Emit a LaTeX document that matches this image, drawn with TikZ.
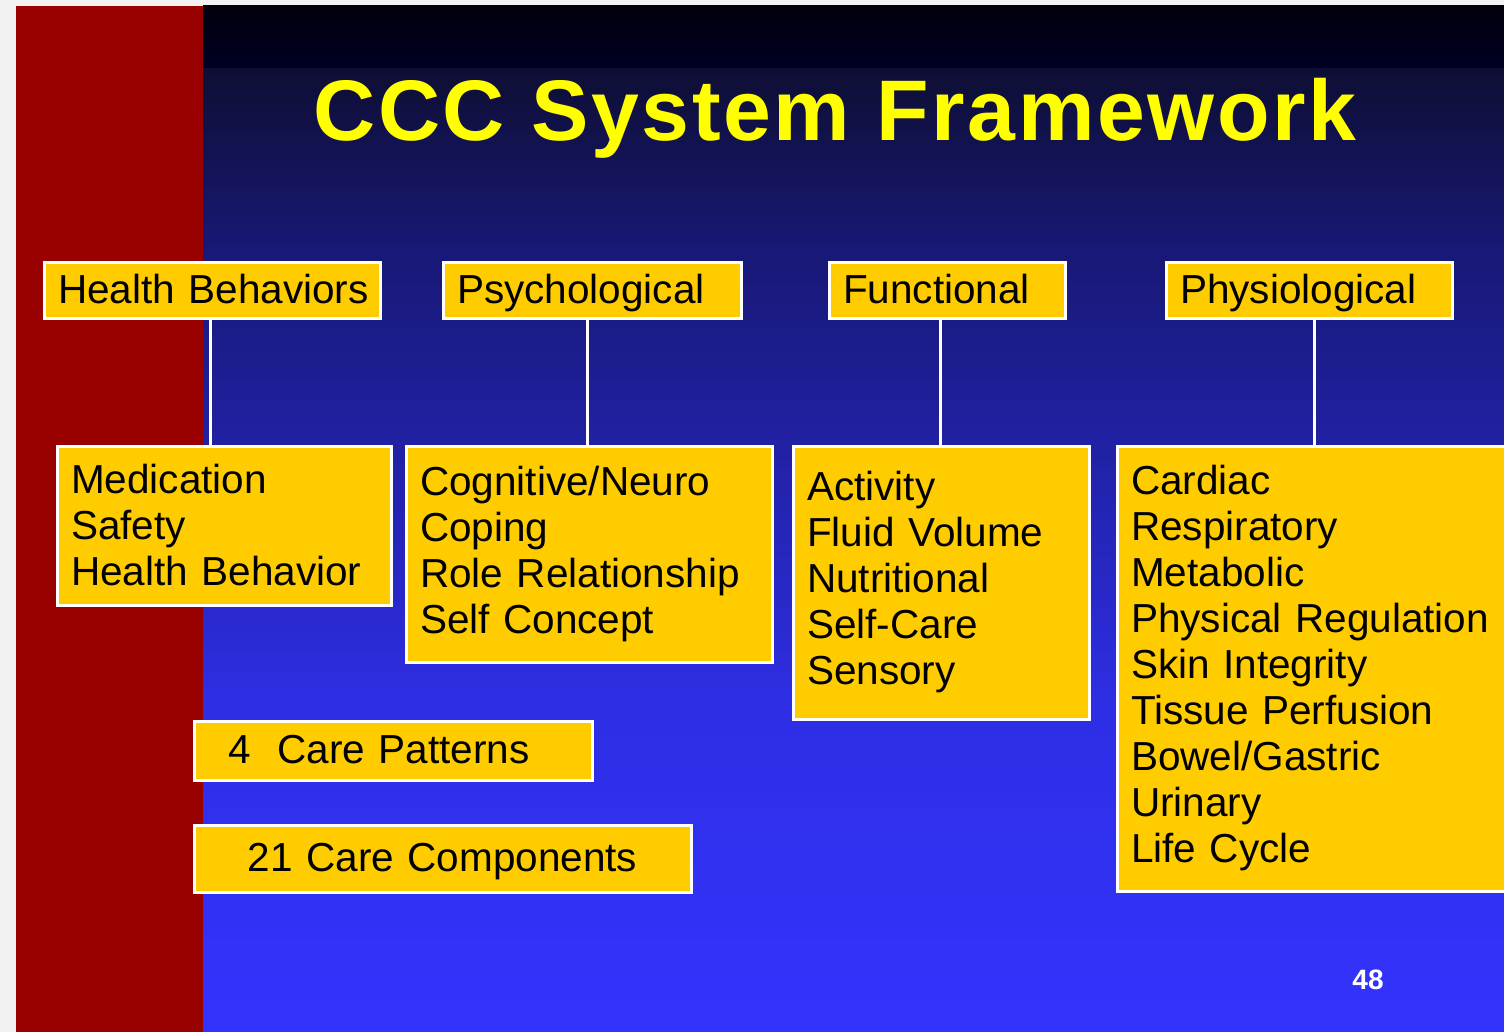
\documentclass[tikz,border=0pt]{standalone}
\usepackage{fontspec}
\setmainfont{Liberation Sans}
\newfontfamily\titlefont[LetterSpace=3.0]{Liberation Sans}
\usetikzlibrary{calc}

\definecolor{pagegray}{RGB}{242,242,242}
\definecolor{barred}{RGB}{153,0,0}
\definecolor{boxgold}{RGB}{255,204,0}
\definecolor{titleyellow}{RGB}{255,255,0}
\definecolor{bgA}{RGB}{0,0,12}
\definecolor{bgB}{RGB}{0,0,38}
\definecolor{bgC}{RGB}{14,14,52}
\definecolor{bgD}{RGB}{24,24,118}
\definecolor{bgE}{RGB}{33,33,165}
\definecolor{bgF}{RGB}{46,46,228}
\definecolor{bgG}{RGB}{51,51,255}

\tikzset{
  cell/.style={draw=white, line width=1.5pt, fill=boxgold, anchor=north west,
    inner xsep=7pt, inner ysep=0pt, align=left, text=black,
    font=\fontsize{20.25}{23}\selectfont},
  oneline/.style={text height=17pt, text depth=4pt},
  conn/.style={draw=white, line width=1.5pt},
}

\begin{document}
\begin{tikzpicture}[x=0.5pt, y=-0.5pt]
  \useasboundingbox (0,0) rectangle (1504,1032);
  \clip (0,0) rectangle (1504,1032);

  % page and side bar
  \fill[pagegray] (0,0) rectangle (1504,1032);
  \fill[barred] (16,6) rectangle (203,1032);

  % banded blue backdrop
  \shade[top color=bgA, bottom color=bgB] (203,6) rectangle (1504,69);
  \shade[top color=bgC, bottom color=bgD] (203,69) rectangle (1504,250);
  \shade[top color=bgD, bottom color=bgE] (203,250) rectangle (1504,450);
  \shade[top color=bgE, bottom color=bgF] (203,450) rectangle (1504,700);
  \shade[top color=bgF, bottom color=bgG] (203,700) rectangle (1504,1032);

  % title
  \node[anchor=base, text=titleyellow, inner sep=0pt,
        font=\titlefont\bfseries\fontsize{43}{43}\selectfont]
        (title) at (835,141) {CCC System Framework};

  % category headers
  \node[cell, oneline, minimum width=168pt, minimum height=27.5pt, text width=154pt]
        (hb) at (42.5,261.5) {\mbox{Health Behaviors}};
  \node[cell, oneline, minimum width=149pt, minimum height=27.5pt, text width=135pt]
        (ps) at (441.5,261.5) {\mbox{Psychological}};
  \node[cell, oneline, minimum width=118pt, minimum height=27.5pt, text width=104pt]
        (fu) at (827.5,261.5) {\mbox{Functional}};
  \node[cell, oneline, minimum width=143pt, minimum height=27.5pt, text width=129pt]
        (ph) at (1164.5,261.5) {\mbox{Physiological}};

  % component lists
  \node[cell, minimum width=167pt, minimum height=79.5pt, text width=153pt]
        (hbc) at (55.5,444.5) {Medication\\Safety\\Health Behavior};
  \node[cell, minimum width=183pt, minimum height=108pt, text width=169pt]
        (psc) at (404.5,444.5) {Cognitive/Neuro\\Coping\\Role Relationship\\Self Concept};
  \node[cell, minimum width=148pt, minimum height=136.5pt, text width=134pt]
        (fuc) at (791.5,444.5) {Activity\\Fluid Volume\\Nutritional\\Self-Care\\Sensory};
  \node[cell, minimum width=220pt, minimum height=222.5pt, text width=206pt]
        (phc) at (1115.5,444.5) {Cardiac\\Respiratory\\Metabolic\\Physical Regulation\\Skin Integrity\\Tissue Perfusion\\Bowel/Gastric\\Urinary\\Life Cycle};

  % connectors
  \draw[conn] (hb.south -| 210,0) -- (hbc.north -| 210,0);
  \draw[conn] (ps.south -| 587,0) -- (psc.north -| 587,0);
  \draw[conn] (fu.south -| 940,0) -- (fuc.north -| 940,0);
  \draw[conn] (ph.south -| 1314,0) -- (phc.north -| 1314,0);

  % summary boxes
  \node[cell, oneline, inner xsep=17pt, minimum width=199pt, minimum height=29.5pt, text width=165pt]
        (pat) at (192.5,719.5) {\mbox{4\ \ Care Patterns}};
  \node[cell, oneline, align=center, minimum width=248.5pt, minimum height=33.5pt, text width=234.5pt]
        (comp) at (192.5,823.5) {\mbox{21 Care Components}};

  % slide number
  \node[anchor=base, text=white, inner sep=0pt, font=\bfseries\fontsize{14}{14}\selectfont]
        (num) at (1368,989) {48};
\end{tikzpicture}
\end{document}
